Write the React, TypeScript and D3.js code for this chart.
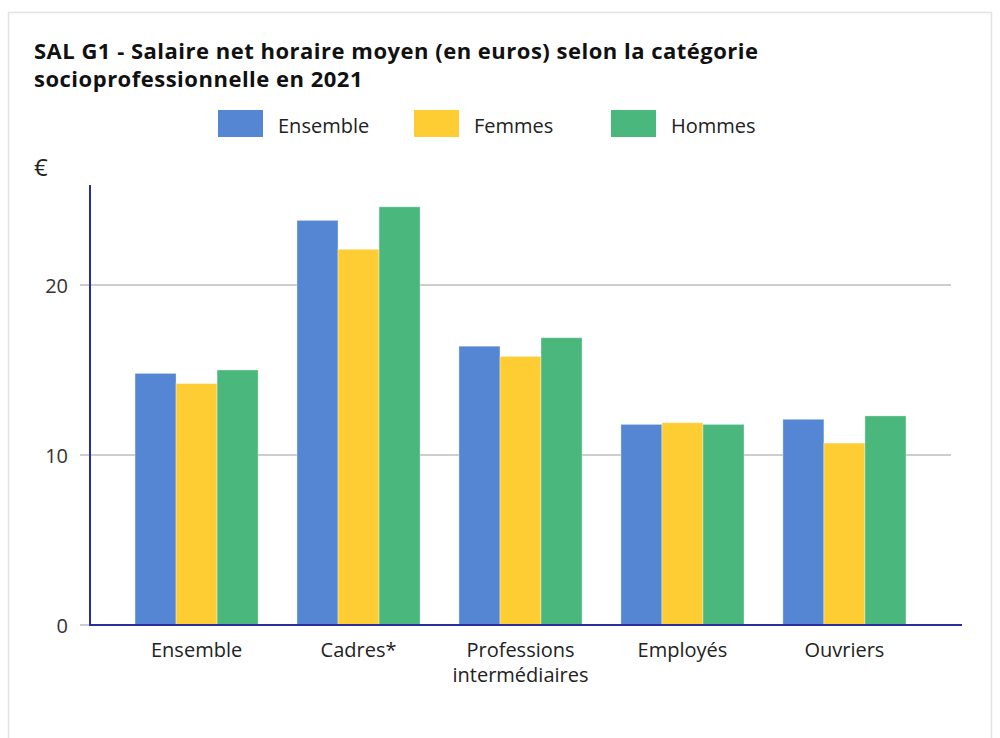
import React, { useEffect, useRef } from 'react';
import * as d3 from 'd3';

const categories = ['Ensemble', 'Cadres*', 'Professions intermédiaires', 'Employés', 'Ouvriers'];
const categoryLines = [['Ensemble'], ['Cadres*'], ['Professions', 'intermédiaires'], ['Employés'], ['Ouvriers']];
const seriesNames = ['Ensemble', 'Femmes', 'Hommes'];
const ensemble = [14.8, 23.8, 16.4, 11.8, 12.1];
const femmes = [14.2, 22.1, 15.8, 11.9, 10.7];
const hommes = [15.0, 24.6, 16.9, 11.8, 12.3];
const yTicks = [0, 10, 20];
const colors = ['#5586d3', '#fecd33', '#4ab77c'];

const App = () => {
  const svgRef = useRef<SVGSVGElement>(null);

  useEffect(() => {
    const width = 1000, height = 738;
    const font = "'Open Sans', sans-serif";
    const svg = d3.select(svgRef.current);
    svg.selectAll('*').remove();
    svg.attr('width', width).attr('height', height);

    const series = [ensemble, femmes, hommes];

    // frame
    svg.append('rect')
      .attr('x', 8.5).attr('y', 12.5)
      .attr('width', 983).attr('height', 760)
      .attr('fill', '#fff').attr('stroke', '#e2e2e2').attr('stroke-width', 1.5);

    // title
    const title = svg.append('text')
      .attr('font-family', font).attr('font-weight', 700)
      .attr('font-size', 22).attr('letter-spacing', 0.5).attr('fill', '#111');
    title.append('tspan').attr('x', 34).attr('y', 59)
      .text('SAL G1 - Salaire net horaire moyen (en euros) selon la catégorie');
    title.append('tspan').attr('x', 34).attr('y', 87)
      .text('socioprofessionnelle en 2021');

    // legend
    const legendX = [218, 414, 611];
    const legend = svg.append('g');
    seriesNames.forEach((name, i) => {
      legend.append('rect')
        .attr('x', legendX[i]).attr('y', 110)
        .attr('width', 45).attr('height', 27)
        .attr('fill', colors[i]);
      legend.append('text')
        .attr('x', legendX[i] + 60).attr('y', 133)
        .attr('font-family', font).attr('font-size', 20).attr('fill', '#222')
        .text(name);
    });

    const x0 = d3.scaleBand()
      .domain(categories)
      .range([90, 951])
      .paddingInner(0.24)
      .paddingOuter(0.278);
    const x1 = d3.scaleBand()
      .domain(seriesNames)
      .range([0, x0.bandwidth()]);
    const y = d3.scaleLinear()
      .domain([0, 26])
      .range([625, 183]);

    // gridlines + ticks
    const grid = svg.append('g');
    grid.selectAll('line')
      .data(yTicks)
      .join('line')
      .attr('x1', 80).attr('x2', d => (d === 0 ? 90 : 951))
      .attr('y1', d => y(d)).attr('y2', d => y(d))
      .attr('stroke', '#bdbdbd').attr('stroke-width', 1.5);
    grid.selectAll('text')
      .data(yTicks)
      .join('text')
      .attr('x', 68).attr('y', d => y(d) + 8)
      .attr('text-anchor', 'end')
      .attr('font-family', font).attr('font-size', 20).attr('fill', '#333')
      .text(d => d);

    svg.append('text')
      .attr('x', 34).attr('y', 176)
      .attr('font-family', font).attr('font-size', 24).attr('fill', '#222')
      .text('€');

    // bars
    const groups = svg.append('g')
      .selectAll('g')
      .data(categories)
      .join('g')
      .attr('transform', d => `translate(${x0(d)},0)`);
    groups.selectAll('rect')
      .data((d, ci) => series.map((s, si) => ({ key: seriesNames[si], value: s[ci], si })))
      .join('rect')
      .attr('x', d => x1(d.key)!)
      .attr('y', d => y(d.value))
      .attr('width', x1.bandwidth())
      .attr('height', d => y(0) - y(d.value))
      .attr('fill', d => colors[d.si])
      .attr('stroke', 'rgba(255,255,255,0.35)')
      .attr('stroke-width', 1);

    // axes lines
    svg.append('line')
      .attr('x1', 90).attr('x2', 90).attr('y1', 185).attr('y2', 626)
      .attr('stroke', '#2b2e9a').attr('stroke-width', 2);
    svg.append('line')
      .attr('x1', 89).attr('x2', 962).attr('y1', 625).attr('y2', 625)
      .attr('stroke', '#2b2e9a').attr('stroke-width', 2);

    // category labels
    const labels = svg.append('g')
      .selectAll('text')
      .data(categories)
      .join('text')
      .attr('text-anchor', 'middle')
      .attr('font-family', font).attr('font-size', 20).attr('fill', '#222');
    labels.each(function (d, i) {
      const cx = x0(d)! + x0.bandwidth() / 2;
      categoryLines[i].forEach((line, li) => {
        d3.select(this).append('tspan')
          .attr('x', cx).attr('y', 657 + li * 25)
          .text(line);
      });
    });
  }, []);

  return (
    <svg
      ref={svgRef}
      style={{ position: 'absolute', left: 0, top: 0, display: 'block' }}
    ></svg>
  );
};

export default App;
